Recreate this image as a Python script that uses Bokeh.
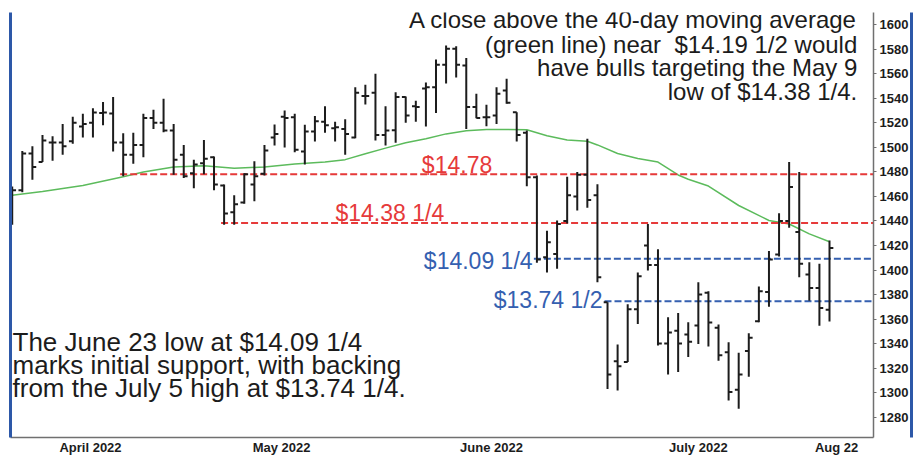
from bokeh.plotting import figure
from bokeh.models import ColumnDataSource, Range1d, LinearAxis, FixedTicker, SingleIntervalTicker
from bokeh.core.properties import value
from bokeh.transform import dodge
from bokeh.embed import file_html
from bokeh.resources import INLINE

# ---------------- data ----------------
bar_index = list(range(1, 83))
bar_open = [1443, 1465, 1495, 1488, 1504, 1504, 1505, 1517, 1520, 1528,
            1527.6, 1504, 1494, 1502, 1524, 1520, 1513.8, 1494, 1479, 1487,
            1492, 1469, 1447, 1455, 1469.7, 1478.5, 1508, 1525, 1524.6, 1496.7,
            1513, 1521, 1515.7, 1515, 1508, 1542, 1544.5, 1510, 1514, 1541,
            1533.6, 1548, 1549, 1567.4, 1580.4, 1566.8, 1533, 1524.6, 1526, 1546.4,
            1528.7, 1512, 1475.7, 1410.4, 1413, 1440, 1460, 1477.6, 1461, 1373.7,
            1325.6, 1325, 1368, 1420, 1404, 1340, 1350.5, 1347.5, 1354.7, 1381.4,
            1353, 1333, 1302.4, 1334, 1358.3, 1382, 1412.6, 1440, 1431, 1396.3,
            1385.4, 1367.5]
bar_high = [1468, 1497, 1501, 1510, 1509, 1519, 1525, 1527.4, 1532, 1537,
            1541, 1511.6, 1512, 1527.4, 1530.7, 1539.6, 1519, 1502, 1490, 1506,
            1492.6, 1469.7, 1461, 1479, 1488.7, 1502, 1518.7, 1530, 1527.4, 1518.4,
            1525.5, 1533.6, 1521, 1523, 1549, 1551, 1560, 1533.6, 1545, 1541.5,
            1538, 1553, 1571.7, 1583, 1582.5, 1572.8, 1543.7, 1534.7, 1549, 1556,
            1528.7, 1513.8, 1477, 1432, 1440.4, 1476, 1480, 1507, 1470, 1373.7,
            1339.3, 1372, 1398, 1437.6, 1417, 1361.5, 1365, 1357.4, 1390, 1382.7,
            1355.5, 1341, 1332.5, 1348.5, 1386.5, 1415.5, 1446.3, 1488, 1480, 1406.4,
            1405, 1424]
bar_low = [1437, 1463.5, 1473.6, 1488, 1489, 1494, 1503, 1508, 1508, 1518,
           1496.7, 1476.5, 1486.6, 1492, 1515, 1512.4, 1477.6, 1475, 1466.7, 1478,
           1465, 1437, 1437, 1454, 1456, 1477, 1501.6, 1500, 1496, 1486,
           1504.8, 1512, 1504.8, 1494, 1507.5, 1535, 1505.6, 1501.6, 1503.8, 1520,
           1521, 1517, 1528, 1552, 1557, 1515, 1523.8, 1517.3, 1519, 1535.6,
           1504.8, 1468.4, 1406, 1398, 1401, 1438, 1448.5, 1450.7, 1390, 1303,
           1301.7, 1325, 1356, 1399.6, 1338.4, 1314.7, 1316.8, 1329, 1339.6, 1337.6,
           1326, 1293.5, 1286.8, 1313, 1357.4, 1370, 1411, 1434.5, 1394, 1375,
           1354.6, 1358]
bar_close = [1465, 1495, 1484, 1505.6, 1504, 1501, 1520, 1519, 1528.5, 1528.5,
             1504, 1494, 1502, 1524, 1520, 1513.8, 1490, 1476.5, 1486, 1490.7,
             1469.7, 1446, 1453.6, 1478, 1476.5, 1497.5, 1511, 1524, 1498, 1513,
             1521.4, 1518, 1516.5, 1511, 1544.5, 1542, 1510, 1513.8, 1541, 1526,
             1533, 1549, 1567.4, 1580.4, 1567.4, 1533, 1524, 1524.6, 1543.7, 1536.4,
             1510, 1475.7, 1408.6, 1422.7, 1437.6, 1461, 1477.6, 1457, 1394, 1314.7,
             1321.5, 1368, 1395, 1404, 1340, 1349, 1340, 1341.5, 1380, 1357.2,
             1330.5, 1300.6, 1314.8, 1344.7, 1382.7, 1408.5, 1440, 1467.6, 1405, 1385.4,
             1369, 1418]

# 40-day moving average (green line), read at selected bars
ma_index = [1, 4, 8, 12, 14, 17, 20, 23, 26, 29, 32, 34, 36, 38, 40, 42, 44, 46,
            48, 50, 52, 54, 56, 58, 59, 61, 63, 65, 67, 68, 70, 73, 76, 78, 80, 82]
ma_value = [1461, 1464, 1469, 1476, 1480, 1484, 1485, 1483, 1484, 1486.5, 1488,
            1490, 1494.8, 1499.4, 1503.7, 1507, 1511, 1513.5, 1514.5, 1514.6, 1514.4,
            1509.5, 1506, 1505, 1502, 1495, 1491, 1488, 1477.5, 1474, 1468.5, 1452.6,
            1440.4, 1437.5, 1429.5, 1423]

# support / resistance levels
level_price = [1478, 1438.25, 1409.25, 1374.5]
level_start_bar = [12, 22, 53, 60]
level_text = ["$14.78", "$14.38 1/4", "$14.09 1/4", "$13.74 1/2"]

# axis labels
month_tick_pos = [8.76, 27.7, 48.5, 69.0, 82.7]
month_labels = ["April 2022", "May 2022", "June 2022", "July 2022", "Aug 22"]

note_top = ["A close above the 40-day moving average",
            "(green line) near\u00a0 $14.19 1/2 would",
            "have bulls targeting the May 9",
            "low of $14.38 1/4."]
note_bottom = ["The June 23 low at $14.09 1/4",
               "marks initial support, with backing",
               "from the July 5 high at $13.74 1/4."]

# ---------------- styling ----------------
FONT = value("Liberation Sans")
RED = "#E63A3A"
BLUE = "#3560B0"
GREEN = "#5CBB5C"
BORDER_BLUE = "#2D58A8"
INK = "#1c1c1c"
AXIS_GRAY = "#707070"

X0, X1 = 0.83, 86.36
Y0, Y1 = 1263.4, 1610.0

p = figure(width=922, height=457, x_range=Range1d(X0, X1), y_range=Range1d(Y0, Y1),
           output_backend="svg", toolbar_location=None, y_axis_location="right",
           min_border_left=10, min_border_right=49, min_border_top=12, min_border_bottom=20)
p.outline_line_color = None
p.xgrid.grid_line_color = None
p.ygrid.grid_line_color = None
p.background_fill_color = "white"
p.border_fill_color = "white"

# right price axis
ya = p.yaxis[0]
ya.ticker = SingleIntervalTicker(interval=20)
ya.axis_line_color = AXIS_GRAY
ya.axis_line_width = 1.5
ya.major_tick_line_color = AXIS_GRAY
ya.major_tick_out = 3
ya.major_tick_in = 0
ya.minor_tick_line_color = None
ya.major_label_standoff = 2
ya.major_label_text_font = "Liberation Sans"
ya.major_label_text_font_style = "bold"
ya.major_label_text_font_size = "13px"
ya.major_label_text_color = INK

# bottom month axis
xa = p.xaxis[0]
xa.ticker = FixedTicker(ticks=month_tick_pos)
xa.major_label_overrides = {pos: lab for pos, lab in zip(month_tick_pos, month_labels)}
xa.axis_line_color = AXIS_GRAY
xa.axis_line_width = 1.5
xa.major_tick_line_color = None
xa.major_tick_out = 0
xa.major_tick_in = 0
xa.minor_tick_line_color = None
xa.major_label_standoff = 2
xa.major_label_text_font = "Liberation Sans"
xa.major_label_text_font_style = "bold"
xa.major_label_text_font_size = "13px"
xa.major_label_text_color = INK

def border_axis(color, width, tick_out):
    return LinearAxis(ticker=FixedTicker(ticks=[]), axis_line_color=color,
                      axis_line_width=width, major_tick_out=tick_out, major_tick_in=0,
                      minor_tick_out=0, minor_tick_in=0, major_tick_line_color=None,
                      minor_tick_line_color=None, major_label_text_font_size="0px")

# blue frame lines at the far left and far right of the picture
p.add_layout(border_axis(None, 1, 4), "left")
p.add_layout(border_axis(BORDER_BLUE, 3, 0), "left")
p.add_layout(border_axis(None, 1, 15), "right")
p.add_layout(border_axis(BORDER_BLUE, 3, 0), "right")

# moving average
p.line(ma_index, ma_value, line_color=GREEN, line_width=1.5)

# levels
lvl = ColumnDataSource(dict(x0=[b - 0.3 for b in level_start_bar], x1=[X1] * 4,
                            y=level_price, c=[RED, RED, BLUE, BLUE]))
p.segment(x0="x0", y0="y", x1="x1", y1="y", line_color="c", line_width=2,
          line_dash="7 3", source=lvl)

# OHLC bars
src = ColumnDataSource(dict(x=bar_index, o=bar_open, h=bar_high, l=bar_low, c=bar_close))
p.segment(x0="x", y0="l", x1="x", y1="h", source=src, line_color=INK, line_width=2)
p.segment(x0=dodge("x", -0.38), y0="o", x1="x", y1="o", source=src, line_color=INK, line_width=2)
p.segment(x0="x", y0="c", x1=dodge("x", 0.38), y1="c", source=src, line_color=INK, line_width=2)

# level labels (vertically centred)
p.text(x=[41.6, 33.04], y=[1485.6, 1446.2], text=level_text[:2],
       text_font=FONT, text_font_size="23px", text_color=RED,
       text_align="left", text_baseline="middle")
p.text(x=[52.57, 59.5], y=[1407.0, 1375.2], text=level_text[2:],
       text_font=FONT, text_font_size="23px", text_color=BLUE,
       text_align="right", text_baseline="middle")

# notes
p.text(x=[84.75] * 4, y=[1604.1, 1584.3, 1565.5, 1545.7], text=note_top,
       text_font=FONT, text_font_size="24px", text_color=INK,
       text_align="right", text_baseline="middle")
p.text(x=[1.03] * 3, y=[1341.6, 1322.5, 1303.7], text=note_bottom,
       text_font=FONT, text_font_size="26px", text_color=INK,
       text_align="left", text_baseline="middle")

open("out.html", "w").write(file_html(p, INLINE))
